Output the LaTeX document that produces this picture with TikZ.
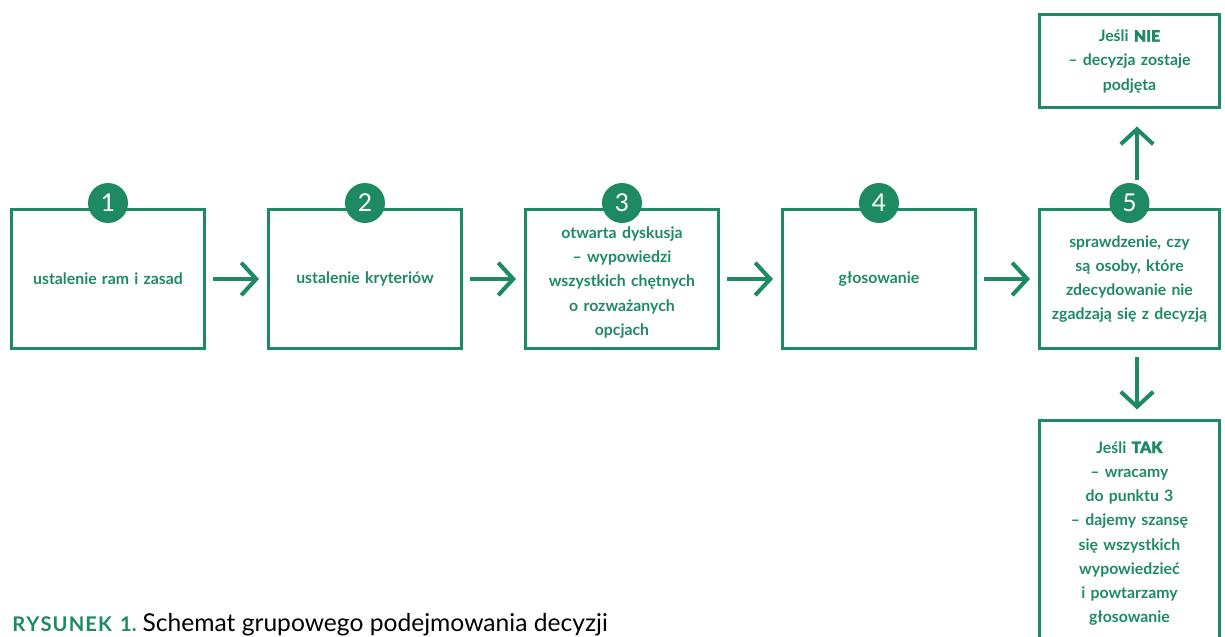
\documentclass[tikz,border=0pt]{standalone}
\usepackage{fontspec}
\setmainfont{Lato}
\newfontfamily\gruby{Lato Bold}[FakeBold=1.6]
\usetikzlibrary{positioning,arrows.meta}
\definecolor{zielony}{RGB}{30,138,98}
\tikzset{
	krok/.style={draw=zielony, line width=1.7pt, minimum width=3.86cm, minimum height=2.78cm, text width=3.6cm, align=center, text=zielony, font=\fontsize{9}{13.8}\selectfont\bfseries, inner sep=0pt},
	numer/.style={circle, fill=zielony, minimum size=0.8cm, inner sep=0pt, text=white, font=\fontsize{14}{14}\selectfont},
	strz/.style={draw=zielony, line width=2.3pt, -{Straight Barb[length=3mm,width=6.5mm,line width=2.3pt]}, shorten <=0.14cm, shorten >=0.16cm}
}
\begin{document}
\begin{tikzpicture}
	\useasboundingbox (0,0) rectangle (24.5,-12.74);

	\node[krok] (s1) at (2.16,-5.58) {ustalenie ram i zasad};
	\node[krok, right=1.22cm of s1] (s2) {ustalenie kryteriów};
	\node[krok, right=1.22cm of s2] (s3) {\rule{0pt}{10.5pt}otwarta dyskusja\\ – wypowiedzi\\ wszystkich chętnych\\ o~rozważanych\\ opcjach};
	\node[krok, right=1.22cm of s3] (s4) {głosowanie};
	\node[krok, right=1.22cm of s4, minimum width=3.58cm] (s5) {sprawdzenie, czy\\ są osoby, które\\ zdecydowanie nie\\ zgadzają się z decyzją};

	\node[krok, minimum width=3.58cm, minimum height=1.86cm, anchor=north] (nie) at (s5.north |- 0,-0.27) {Jeśli {\gruby NIE}\\ – decyzja zostaje\\ podjęta};
	\node[krok, minimum width=3.58cm, minimum height=4.5cm, anchor=north] (tak) at (s5.north |- 0,-8.39) {Jeśli {\gruby TAK}\\ – wracamy\\ do punktu 3\\ – dajemy szansę\\ się wszystkich\\ wypowiedzieć\\ i powtarzamy\\ głosowanie};

	\foreach \i in {1,...,5}
		\node[numer] (n\i) at ([yshift=0.1cm]s\i.north) {\i};

	\draw[strz] (s1) -- (s2);
	\draw[strz] (s2) -- (s3);
	\draw[strz] (s3) -- (s4);
	\draw[strz] (s4) -- (s5);
	\draw[strz, shorten <=0.06cm, shorten >=0.34cm] (n5.north -| 22.74,0) -- (nie.south -| 22.74,0);
	\draw[strz, shorten <=0.14cm, shorten >=0.2cm] (s5.south -| 22.74,0) -- (tak.north -| 22.74,0);

	\node[anchor=base west, inner sep=0pt] (podpis) at (0.24,-12.64) {{\color{zielony}\fontsize{11.5}{11.5}\selectfont\bfseries R\kern.6pt Y\kern.6pt S\kern.6pt U\kern.6pt N\kern.6pt E\kern.6pt K\, 1.}\,\,\fontsize{14}{14}\selectfont Schemat grupowego podejmowania decyzji};
\end{tikzpicture}
\end{document}
